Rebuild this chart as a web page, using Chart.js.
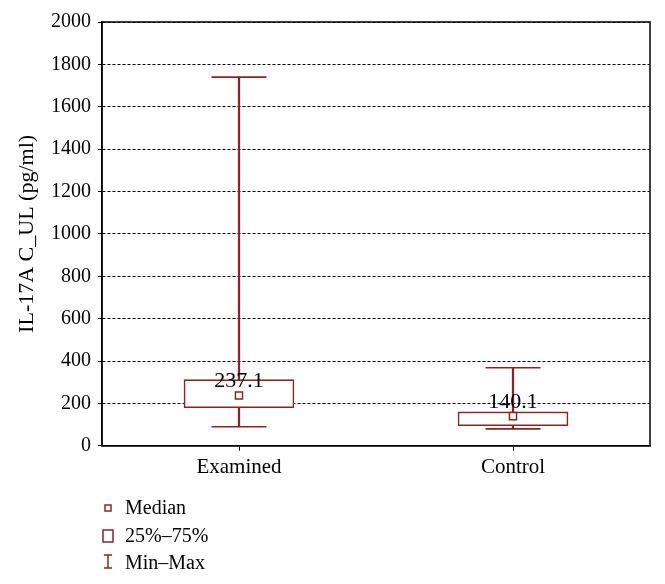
<!DOCTYPE html>
<html lang="en">
<head>
  <meta charset="UTF-8">
  <title>IL-17A C_UL box plot</title>
  <script src="https://cdn.jsdelivr.net/npm/chart.js"></script>
  <style>
    body { margin: 0; background: #fff; }
    .chart-container { width: 665px; height: 584px; }
  </style>
</head>
<body>
  <div class="chart-container">
    <canvas id="boxChart"></canvas>
  </div>

  <script>
    const groups = ['Examined', 'Control'];
    const minValues = [90, 80];
    const q1Values = [180, 95];
    const medianValues = [237.1, 140.1];
    const q3Values = [312, 160];
    const maxValues = [1740, 368];
    const yTicks = [0, 200, 400, 600, 800, 1000, 1200, 1400, 1600, 1800, 2000];

    const red = '#8c2323';
    const serif = "'Liberation Serif', 'Times New Roman', serif";

    // frame around plot area, median labels and legend
    const extras = {
      id: 'extras',
      afterDatasetsDraw(chart) {
        const { ctx, chartArea: a, scales: { x, y } } = chart;
        ctx.save();
        ctx.strokeStyle = '#000';
        ctx.lineWidth = 1.5;
        ctx.strokeRect(a.left, a.top, a.right - a.left, a.bottom - a.top);

        ctx.fillStyle = '#000';
        ctx.font = '22px ' + serif;
        ctx.textAlign = 'center';
        ctx.textBaseline = 'middle';
        groups.forEach((g, i) => {
          ctx.fillText(medianValues[i].toFixed(1), x.getPixelForValue(i), y.getPixelForValue(medianValues[i]) - 14);
        });

        // legend
        const lx = 108;
        ctx.strokeStyle = red;
        ctx.lineWidth = 1.5;
        ctx.strokeRect(lx - 3, 505, 6, 6);
        ctx.strokeRect(lx - 5, 530, 10, 12);
        ctx.beginPath();
        ctx.moveTo(lx - 4, 555); ctx.lineTo(lx + 4, 555);
        ctx.moveTo(lx, 555); ctx.lineTo(lx, 568);
        ctx.moveTo(lx - 4, 568); ctx.lineTo(lx + 4, 568);
        ctx.stroke();

        ctx.font = '20px ' + serif;
        ctx.textAlign = 'left';
        ctx.textBaseline = 'alphabetic';
        ctx.fillText('Median', 125, 514);
        ctx.fillText('25%\u201375%', 125, 542);
        ctx.fillText('Min\u2013Max', 125, 569);
        ctx.restore();
      }
    };

    new Chart(document.getElementById('boxChart'), {
      data: {
        labels: groups,
        datasets: [
          {
            type: 'bar',
            label: 'Min-Max',
            data: groups.map((g, i) => [minValues[i], maxValues[i]]),
            backgroundColor: red,
            borderWidth: 0,
            barThickness: 1.6,
            grouped: false,
            order: 3
          },
          {
            type: 'bar',
            label: '25%-75%',
            data: groups.map((g, i) => [q1Values[i], q3Values[i]]),
            backgroundColor: '#fff',
            borderColor: red,
            borderWidth: 1.6,
            borderSkipped: false,
            barThickness: 110,
            grouped: false,
            order: 2
          },
          {
            type: 'line',
            label: 'caps',
            data: [...minValues, ...maxValues].map((v, i) => ({ x: groups[i % 2], y: v })),
            showLine: false,
            pointStyle: 'line',
            pointRadius: 27.5,
            borderColor: red,
            borderWidth: 1.6,
            order: 1
          },
          {
            type: 'line',
            label: 'Median',
            data: medianValues,
            showLine: false,
            pointStyle: 'rect',
            pointRadius: 5,
            pointBackgroundColor: '#fff',
            pointBorderColor: red,
            pointBorderWidth: 1.5,
            order: 0
          }
        ]
      },
      options: {
        responsive: true,
        maintainAspectRatio: false,
        animation: false,
        events: [],
        layout: { autoPadding: false, padding: { left: 14, right: 15, top: 22, bottom: 100 } },
        plugins: { legend: { display: false }, tooltip: { enabled: false } },
        scales: {
          x: {
            offset: true,
            border: { display: true, color: '#000', width: 1.5 },
            grid: { display: true, drawOnChartArea: false, offset: false, tickLength: 5, color: '#000' },
            ticks: { color: '#000', font: { family: serif, size: 21 }, padding: 4 }
          },
          y: {
            min: 0,
            max: 2000,
            afterBuildTicks: scale => { scale.ticks = yTicks.map(v => ({ value: v })); },
            afterFit: scale => { scale.width = 88; },
            border: { display: true, color: '#000', width: 1.5, dash: [3, 2] },
            grid: { color: '#000', lineWidth: 1, tickBorderDash: [], tickLength: 4 },
            ticks: { color: '#000', font: { family: serif, size: 20 }, padding: 7, callback: v => String(v) },
            title: {
              display: true,
              text: 'IL-17A C_UL (pg/ml)',
              color: '#000',
              font: { family: serif, size: 22 },
              padding: 0
            }
          }
        }
      },
      plugins: [extras]
    });
  </script>
</body>
</html>
